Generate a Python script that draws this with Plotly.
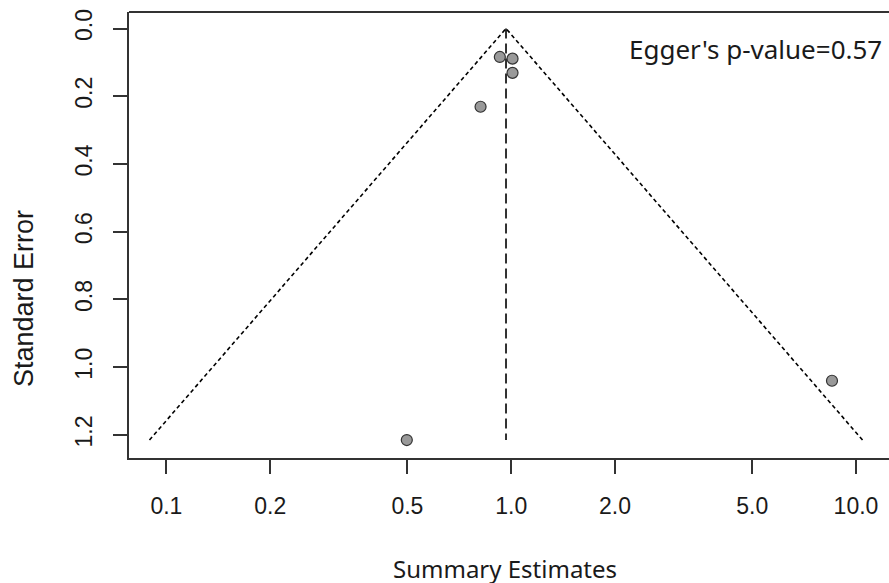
import plotly.graph_objects as go

# Study estimates (summary estimate, standard error)
estimates = [0.927, 1.009, 1.009, 0.815, 0.498, 8.52]
std_errors = [0.084, 0.089, 0.131, 0.231, 1.215, 1.040]

# Pooled estimate and funnel corners
pooled = 0.966
funnel_x = [0.0893, 0.966, 10.45]
funnel_y = [1.215, 0.0, 1.215]

x_tickvals = [0.1, 0.2, 0.5, 1.0, 2.0, 5.0, 10.0]
x_ticktext = ["0.1", "0.2", "0.5", "1.0", "2.0", "5.0", "10.0"]
y_tickvals = [0.0, 0.2, 0.4, 0.6, 0.8, 1.0, 1.2]
y_ticktext = ["0.0", "0.2", "0.4", "0.6", "0.8", "1.0", "1.2"]

egger_text = "Egger's p-value=0.57"

W, H = 889, 583
L, R, T, B = 129, 0, 12, 125
pw, ph = W - L - R, H - T - B

def px_to_paper_x(px):
    return (px - L) / pw

def px_to_paper_y(py):
    return (H - B - py) / ph

axis_col = "#333333"
txt_col = "#1a1a1a"

fig = go.Figure()

fig.add_trace(go.Scatter(
    x=funnel_x, y=funnel_y, mode="lines",
    line=dict(color="black", width=1.6, dash="4px,3px"),
    hoverinfo="skip", showlegend=False))

fig.add_trace(go.Scatter(
    x=[pooled, pooled], y=[0.0, max(funnel_y)], mode="lines",
    line=dict(color="black", width=1.6, dash="10px,5px"),
    hoverinfo="skip", showlegend=False))

fig.add_trace(go.Scatter(
    x=estimates, y=std_errors, mode="markers",
    marker=dict(size=11, color="#999999", line=dict(color="#333333", width=1.2)),
    showlegend=False))

fig.update_xaxes(
    type="log", range=[-1.1085, 1.0958],
    tickvals=x_tickvals, ticktext=x_ticktext,
    showgrid=False, zeroline=False,
    showline=True, linecolor=axis_col, linewidth=2,
    ticks="outside", ticklen=14, tickwidth=2, tickcolor=axis_col,
    tickfont=dict(family="Liberation Sans, Arial", size=23, color=txt_col),
    ticklabelstandoff=12,
)
fig.update_yaxes(
    range=[1.268, -0.0487],
    tickvals=y_tickvals, ticktext=y_ticktext,
    showgrid=False, zeroline=False,
    showline=True, linecolor=axis_col, linewidth=2,
    ticks="outside", ticklen=14, tickwidth=2, tickcolor=axis_col,
    tickangle=-90,
    tickfont=dict(family="Liberation Sans, Arial", size=23, color=txt_col),
    ticklabelstandoff=12,
)

# top border (right border is cropped off in the reference)
fig.add_shape(type="line", xref="paper", yref="paper", x0=0, x1=1, y0=1, y1=1,
              line=dict(color=axis_col, width=2))

fig.add_annotation(
    text=egger_text, xref="paper", yref="paper",
    x=px_to_paper_x(884), y=px_to_paper_y(49.5),
    xanchor="right", yanchor="middle", showarrow=False,
    font=dict(family="Noto Sans", size=26, color=txt_col))

fig.add_annotation(
    text="Summary Estimates", xref="paper", yref="paper",
    x=px_to_paper_x(391), y=px_to_paper_y(568),
    xanchor="left", yanchor="middle", showarrow=False,
    font=dict(family="Noto Sans", size=24, color=txt_col))

fig.add_annotation(
    text="Standard Error", xref="paper", yref="paper",
    x=px_to_paper_x(24), y=px_to_paper_y(298),
    xanchor="center", yanchor="middle", showarrow=False, textangle=-90,
    font=dict(family="Liberation Sans, Arial", size=27, color=txt_col))

fig.update_layout(
    width=W, height=H,
    margin=dict(l=L, r=R, t=T, b=B),
    paper_bgcolor="white", plot_bgcolor="white",
    showlegend=False,
)

fig.write_html("out.html",
               config={"displayModeBar": False},
               post_script="document.body.style.margin='0';document.body.style.padding='0';")
